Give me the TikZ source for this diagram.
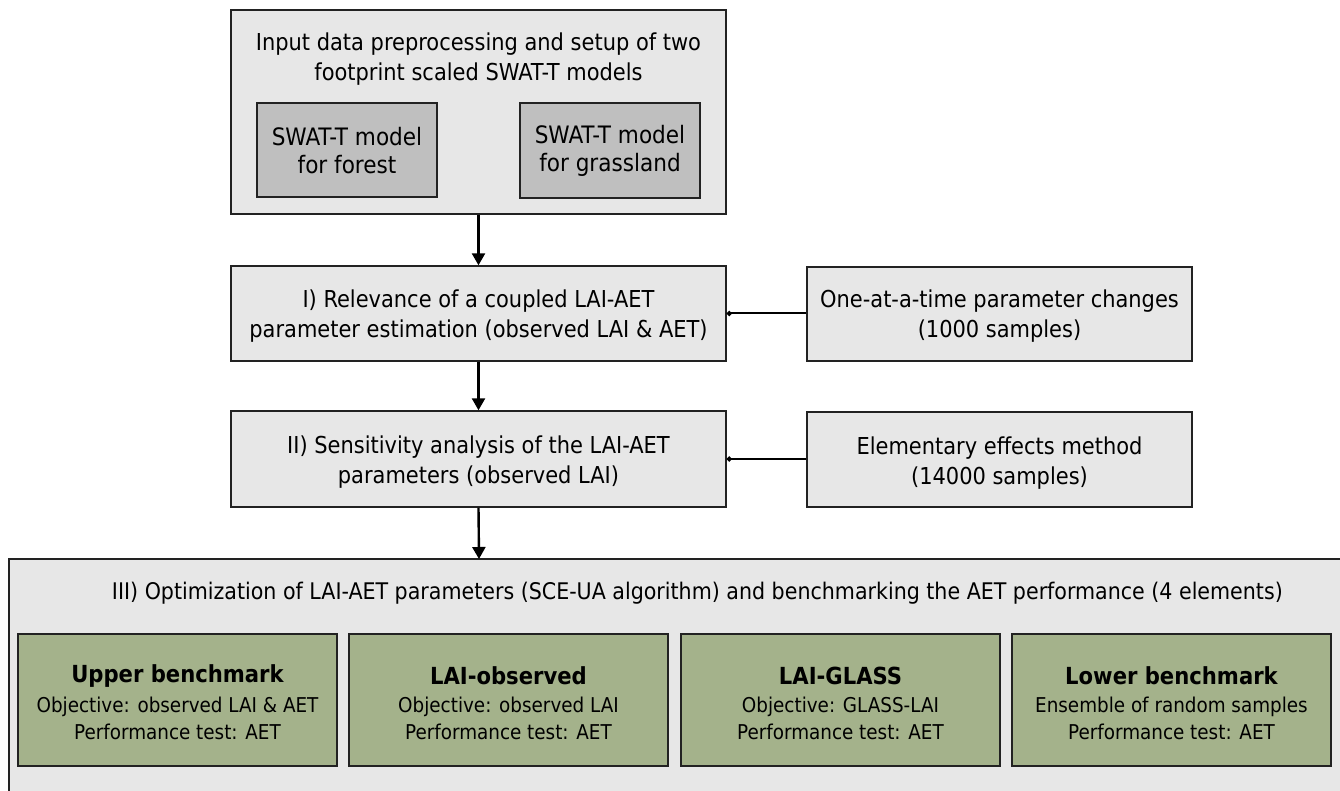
\documentclass[tikz,border=0pt]{standalone}
\usepackage{fontspec}
\setmainfont{DejaVu Sans Condensed}
\usetikzlibrary{arrows.meta}
\definecolor{lgray}{HTML}{E7E7E7}
\definecolor{mgray}{HTML}{BFBFBF}
\definecolor{lgreen}{HTML}{A4B28B}
\definecolor{edge}{HTML}{222222}
\tikzset{
  box/.style={draw=edge, line width=1.4pt, fill=lgray, inner sep=0pt, anchor=center},
  modelbox/.style={draw=edge, line width=1.4pt, fill=mgray, inner sep=0pt, align=center,
     font=\fontsize{24}{28}\selectfont},
  greenbox/.style={draw=edge, line width=1.4pt, fill=lgreen, inner sep=0pt,
     minimum width=319pt, minimum height=132pt},
  txt/.style={align=center, font=\fontsize{23.3}{30}\selectfont, inner sep=0pt},
  gtitle/.style={font=\bfseries\fontsize{23.5}{28}\selectfont, inner sep=0pt},
  gbody/.style={font=\fontsize{20.4}{25}\selectfont, inner sep=0pt},
  flow/.style={line width=2.4pt, -{Triangle[length=12pt,width=13pt]}},
  link/.style={line width=2pt, {Circle[length=5pt]}-},
}
\begin{document}
\begin{tikzpicture}[x=1pt,y=-1pt]
\useasboundingbox (0,0) rectangle (1340,791);
% top box
\node[box, minimum width=495pt, minimum height=204pt] (top) at (478.5,112) {};
\node[txt] (toptxt) at (478.5,59) {Input data preprocessing and setup of two\\footprint scaled SWAT-T models};
\node[modelbox, minimum width=180pt, minimum height=94pt, text depth=0pt] (forest) at (347,150) {SWAT-T model\\for forest};
\node[modelbox, minimum width=180pt, minimum height=95pt] (grass) at (610,150.5) {SWAT-T model\\for grassland};
% step I
\node[box, txt, minimum width=495pt, minimum height=95pt, text depth=0pt] (s1) at (478.5,313.5) {I) Relevance of a coupled LAI-AET\\parameter estimation (observed LAI \& AET)};
\node[box, minimum width=385pt, minimum height=94pt] (r1) at (999.5,314) {};
\node[txt] (r1txt) at (999.5,316.5) {One-at-a-time parameter changes\\(1000 samples)};
% step II
\node[box, minimum width=495pt, minimum height=96pt] (s2) at (478.5,459) {};
\node[txt] (s2txt) at (478.5,462.5) {II) Sensitivity analysis of the LAI-AET\\parameters (observed LAI)};
\node[box, minimum width=385pt, minimum height=95pt] (r2) at (999.5,459.5) {};
\node[txt] (r2txt) at (999.5,463) {Elementary effects method\\(14000 samples)};
% step III
\draw[draw=edge, line width=1.4pt, fill=lgray] (9,559) rectangle (1352,803);
\coordinate (s3top) at (479,559);
\node[txt, font=\fontsize{22.9}{30}\selectfont] (s3txt) at (697.5,593) {III) Optimization of LAI-AET parameters (SCE-UA algorithm) and benchmarking the AET performance (4 elements)};
\node[greenbox] (g1) at (177.5,700) {};
\node[greenbox] (g2) at (508.5,700) {};
\node[greenbox] (g3) at (840.5,700) {};
\node[greenbox] (g4) at (1171.5,700) {};
\node[gtitle] (g1t) at (177.5,676) {Upper benchmark};
\node[gbody] (g1a) at (177.5,707) {Objective: observed LAI \& AET};
\node[gbody] (g1b) at (177.5,732) {Performance test: AET};
\node[gtitle] (g2t) at (508.5,676) {LAI-observed};
\node[gbody] (g2a) at (508.5,707) {Objective: observed LAI};
\node[gbody] (g2b) at (508.5,732) {Performance test: AET};
\node[gtitle] (g3t) at (840.5,676) {LAI-GLASS};
\node[gbody] (g3a) at (840.5,707) {Objective: GLASS-LAI};
\node[gbody] (g3b) at (840.5,732) {Performance test: AET};
\node[gtitle] (g4t) at (1171.5,676) {Lower benchmark};
\node[gbody] (g4a) at (1171.5,707) {Ensemble of random samples};
\node[gbody] (g4b) at (1171.5,732) {Performance test: AET};
% connectors
\draw[flow] (top.south -| s1.north) -- (s1.north);
\draw[flow] (s1.south) -- (s2.north);
\draw[flow] (s2.south) -- (s3top);
\draw[link] (s1.east) -- (r1.west |- s1.east);
\draw[link] (s2.east) -- (r2.west |- s2.east);
\end{tikzpicture}
\end{document}
